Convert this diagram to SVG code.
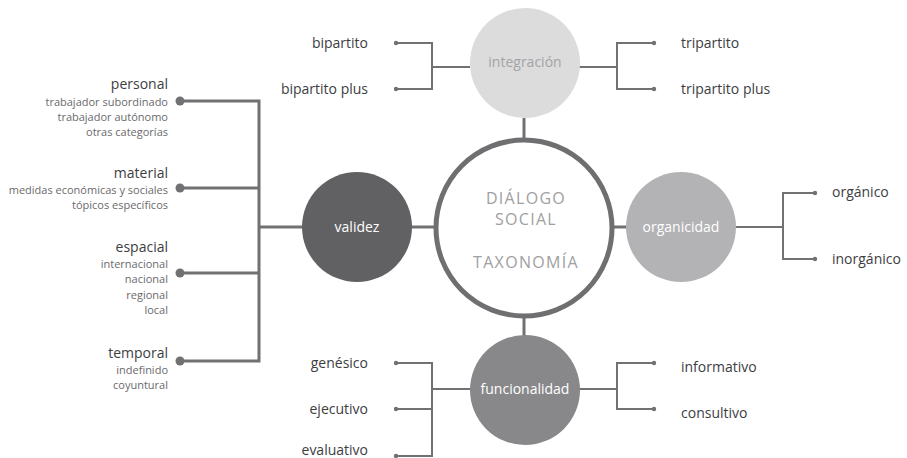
<svg xmlns="http://www.w3.org/2000/svg" width="907" height="458" viewBox="0 0 907 458">
  <style>
    .ln { fill: none; stroke: #717173; stroke-width: 3; }
    .thin { fill: none; stroke: #717173; stroke-width: 2; }
    .dot { fill: #717173; }
    .lbl { font-family: "Open Sans", "Liberation Sans", sans-serif; font-size: 14px; fill: #3d3d3f; }
    .head { font-family: "Open Sans", "Liberation Sans", sans-serif; font-size: 14px; fill: #3d3d3f; text-anchor: end; }
    .sub { font-family: "Open Sans", "Liberation Sans", sans-serif; font-size: 11px; fill: #6a6a6c; text-anchor: end; }
    .node { font-family: "Open Sans", "Liberation Sans", sans-serif; font-size: 14px; text-anchor: middle; }
    .core { font-family: "Open Sans", "Liberation Sans", sans-serif; font-size: 16px; fill: #a0a0a2; text-anchor: middle; letter-spacing: 1.3px; }
  </style>

  <!-- connectors -->
  <g id="connectors">
    <!-- spokes from the core -->
    <line class="ln" x1="524" y1="118" x2="524" y2="138"/>
    <line class="ln" x1="524" y1="318" x2="524" y2="336"/>
    <line class="ln" x1="411" y1="227" x2="437" y2="227"/>
    <line class="ln" x1="611" y1="227" x2="627" y2="227"/>

    <!-- validez tree -->
    <line class="ln" x1="259" y1="227" x2="303" y2="227"/>
    <polyline class="ln" points="180,101 259,101 259,361 180,361"/>
    <line class="ln" x1="180" y1="188" x2="259" y2="188"/>
    <line class="ln" x1="180" y1="273" x2="259" y2="273"/>
    <circle class="dot" cx="180" cy="101" r="4.5"/>
    <circle class="dot" cx="180" cy="188" r="4.5"/>
    <circle class="dot" cx="180" cy="273" r="4.5"/>
    <circle class="dot" cx="180" cy="361" r="4.5"/>

    <!-- integración trees -->
    <line class="thin" x1="432" y1="67" x2="470" y2="67"/>
    <polyline class="thin" points="396,43 432,43 432,89 396,89"/>
    <circle class="dot" cx="396" cy="43" r="2.2"/>
    <circle class="dot" cx="396" cy="89" r="2.2"/>
    <line class="thin" x1="579" y1="67" x2="617" y2="67"/>
    <polyline class="thin" points="654,43 617,43 617,89 654,89"/>
    <circle class="dot" cx="654" cy="43" r="2.2"/>
    <circle class="dot" cx="654" cy="89" r="2.2"/>

    <!-- organicidad tree -->
    <line class="thin" x1="735" y1="227" x2="783" y2="227"/>
    <polyline class="thin" points="815,193 783,193 783,259 815,259"/>
    <circle class="dot" cx="815" cy="193" r="2.2"/>
    <circle class="dot" cx="815" cy="259" r="2.2"/>

    <!-- funcionalidad trees -->
    <line class="thin" x1="432" y1="389" x2="470" y2="389"/>
    <polyline class="thin" points="396,363 432,363 432,456 396,456"/>
    <line class="thin" x1="396" y1="409" x2="432" y2="409"/>
    <circle class="dot" cx="396" cy="363" r="2.2"/>
    <circle class="dot" cx="396" cy="409" r="2.2"/>
    <circle class="dot" cx="396" cy="456" r="2.2"/>
    <line class="thin" x1="579" y1="389" x2="617" y2="389"/>
    <polyline class="thin" points="654,363 617,363 617,409 654,409"/>
    <circle class="dot" cx="654" cy="363" r="2.2"/>
    <circle class="dot" cx="654" cy="409" r="2.2"/>
  </g>

  <!-- central node -->
  <g id="core">
    <circle cx="524" cy="228" r="88" fill="#ffffff" stroke="#6f6f71" stroke-width="5"/>
    <text class="core" x="526" y="204">DIÁLOGO</text>
    <text class="core" x="526" y="225">SOCIAL</text>
    <text class="core" x="526" y="268">TAXONOMÍA</text>
  </g>

  <g id="integracion">
    <circle cx="525" cy="63" r="55" fill="#dcdcdd"/>
    <text class="node" x="525" y="67" fill="#a3a3a5">integración</text>
  </g>

  <g id="validez">
    <circle cx="357" cy="227" r="55" fill="#616163"/>
    <text class="node" x="357" y="232" fill="#ffffff">validez</text>
  </g>

  <g id="organicidad">
    <circle cx="681" cy="227" r="55" fill="#b3b3b5"/>
    <text class="node" x="681" y="232" fill="#ffffff">organicidad</text>
  </g>

  <g id="funcionalidad">
    <circle cx="525" cy="390" r="55" fill="#88888a"/>
    <text class="node" x="525" y="394" fill="#ffffff">funcionalidad</text>
  </g>

  <!-- leaf labels -->
  <g id="integracion-leaves">
    <text class="lbl" x="368" y="48" text-anchor="end">bipartito</text>
    <text class="lbl" x="368" y="94" text-anchor="end">bipartito plus</text>
    <text class="lbl" x="681" y="48">tripartito</text>
    <text class="lbl" x="681" y="94">tripartito plus</text>
  </g>

  <g id="organicidad-leaves">
    <text class="lbl" x="832" y="197">orgánico</text>
    <text class="lbl" x="832" y="264">inorgánico</text>
  </g>

  <g id="funcionalidad-leaves">
    <text class="lbl" x="368" y="368" text-anchor="end">genésico</text>
    <text class="lbl" x="368" y="414" text-anchor="end">ejecutivo</text>
    <text class="lbl" x="368" y="455" text-anchor="end">evaluativo</text>
    <text class="lbl" x="681" y="372">informativo</text>
    <text class="lbl" x="681" y="418">consultivo</text>
  </g>

  <g id="personal">
    <text class="head" x="168" y="89">personal</text>
    <text class="sub" x="168" y="106">trabajador subordinado</text>
    <text class="sub" x="168" y="121">trabajador autónomo</text>
    <text class="sub" x="168" y="136">otras categorías</text>
  </g>

  <g id="material">
    <text class="head" x="168" y="178">material</text>
    <text class="sub" x="168" y="194">medidas económicas y sociales</text>
    <text class="sub" x="168" y="209">tópicos específicos</text>
  </g>

  <g id="espacial">
    <text class="head" x="168" y="252">espacial</text>
    <text class="sub" x="168" y="268">internacional</text>
    <text class="sub" x="168" y="283">nacional</text>
    <text class="sub" x="168" y="299">regional</text>
    <text class="sub" x="168" y="314">local</text>
  </g>

  <g id="temporal">
    <text class="head" x="168" y="358">temporal</text>
    <text class="sub" x="168" y="374">indefinido</text>
    <text class="sub" x="168" y="389">coyuntural</text>
  </g>
</svg>
